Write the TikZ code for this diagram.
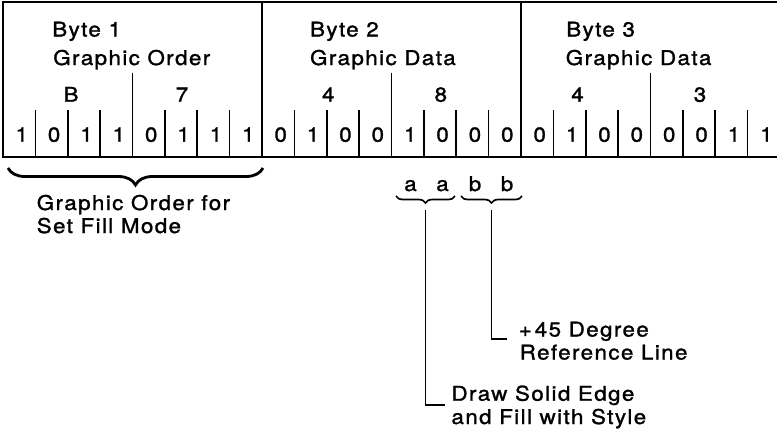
\documentclass[tikz,border=0pt]{standalone}
\usepackage{fontspec}
\setmainfont{TeX Gyre Heros}[LetterSpace=7,FakeStretch=1.1,FakeBold=1.4]
\usetikzlibrary{decorations.pathreplacing}
\begin{document}
\begin{tikzpicture}[x=1pt,y=-1pt,line width=1.6pt,line cap=butt,
  txt/.style={inner sep=0pt,font=\fontsize{20.3}{23}\selectfont},
  lbl/.style={txt,anchor=base west},
  dig/.style={txt,anchor=base},
  smallbrace/.style={decorate,decoration={brace,amplitude=7pt},line width=1.7pt},
  bigbrace/.style={decorate,decoration={brace,amplitude=17pt},line width=2.8pt},
  leader/.style={line width=1.6pt}]
\useasboundingbox (0,0) rectangle (777,434);
% frame
\draw (780,2) -- (3,2) -- (3,157) -- (780,157);
% dividers
\foreach \i in {1,...,23}{
  \pgfmathsetmacro{\xx}{3+\i*32.375}
  \pgfmathtruncatemacro{\mm}{mod(\i,8)}
  \pgfmathtruncatemacro{\nn}{mod(\i,4)}
  \ifnum\mm=0
    \draw (\xx,2) -- (\xx,157);
  \else\ifnum\nn=0
    \draw (\xx,72.7) -- (\xx,157);
  \else
    \draw (\xx,110) -- (\xx,157);
  \fi\fi
}
% bits
\foreach \b [count=\i from 0] in {1,0,1,1,0,1,1,1,0,1,0,0,1,0,0,0,0,1,0,0,0,0,1,1}{
  \node[dig] (bit\i) at ({3+(\i+0.5)*32.375+2.5},141.7) {\b};
}
% headers
\node[lbl] (byte1) at (51.5,36.5) {Byte 1};
\node[lbl] (kind1) at (52.5,65) {Graphic Order};
\node[lbl] (byte2) at (309.3,36.5) {Byte 2};
\node[lbl] (kind2) at (309.3,65) {Graphic Data};
\node[lbl] (byte3) at (565.5,36.5) {Byte 3};
\node[lbl] (kind3) at (565,65) {Graphic Data};
% hex digits
\node[dig] (hexB) at (71,101.7) {B};
\node[dig] (hex7) at (182,101.7) {7};
\node[dig] (hex4a) at (328.3,101.7) {4};
\node[dig] (hex8) at (440.8,101.7) {8};
\node[dig] (hex4b) at (577.5,101.7) {4};
\node[dig] (hex3) at (700,101.7) {3};
% a a b b
\node[dig] (fa1) at (410.5,191) {a};
\node[dig] (fa2) at (442.5,191) {a};
\node[dig] (fb1) at (475,191) {b};
\node[dig] (fb2) at (507,191) {b};
% braces
\draw[bigbrace] (263,168) -- (8,168);
\draw[smallbrace] (455,196) -- (396,196);
\draw[smallbrace] (522,196) -- (461,196);
% labels
\node[lbl] (go1) at (36,210) {Graphic Order for};
\node[lbl] (go2) at (36,233) {Set Fill Mode};
\node[lbl] (ref1) at (518,336.5) {+\kern3pt45 Degree};
\node[lbl] (ref2) at (519,359.5) {Reference Line};
\node[lbl] (dse1) at (450.7,400.7) {Draw Solid Edge};
\node[lbl] (dse2) at (450.7,424) {and Fill with Style};
% leaders
\coordinate (tipA) at (425.5,210);
\coordinate (tipB) at (491.5,210);
\draw[leader] (tipA) |- ([shift={(-6,4.3)}]dse1.base west);
\draw[leader] (tipB) |- ([shift={(-11,2.5)}]ref1.base west);
\end{tikzpicture}
\end{document}
